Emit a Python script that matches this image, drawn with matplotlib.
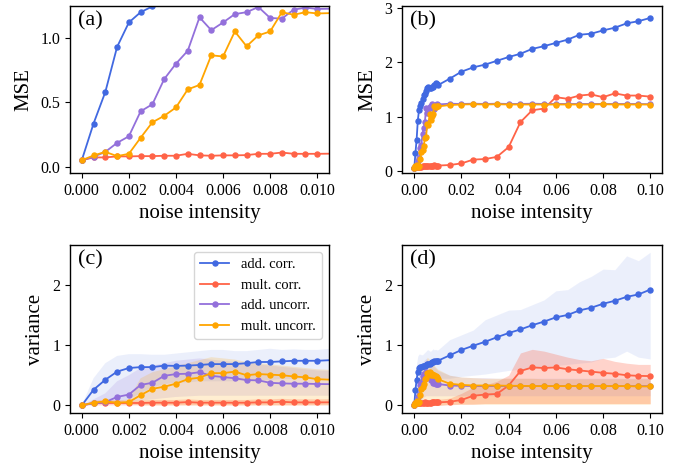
import numpy as np
import matplotlib
matplotlib.use("Agg")
import matplotlib.pyplot as plt

plt.rcParams['font.family'] = ['Liberation Serif', 'DejaVu Serif']
plt.rcParams['mathtext.fontset'] = 'stix'

# noise intensity grid (fine near zero, then coarse)
x_fine = [0.0, 0.0005, 0.001, 0.0015, 0.002, 0.0025, 0.003, 0.0035, 0.004, 0.0045, 0.005,
          0.0055, 0.006, 0.0065, 0.007, 0.0075, 0.008, 0.0085, 0.009, 0.0095, 0.010]
x_coarse = [0.015, 0.02, 0.025, 0.03, 0.035, 0.04, 0.045, 0.05, 0.055, 0.06, 0.065,
            0.07, 0.075, 0.08, 0.085, 0.09, 0.095, 0.1]
noise = np.array(x_fine + x_coarse)

labels = ["add. corr.", "mult. corr.", "add. uncorr.", "mult. uncorr."]
colors = ["#4169E1", "#FF6347", "#9370DB", "#FFA500"]
band_alpha = [0.10, 0.28, 0.16, 0.18]

# MSE
mse_add_corr = [0.05, 0.335, 0.58, 0.93, 1.12, 1.20, 1.245, 1.33, 1.40, 1.42, 1.48, 1.52, 1.55, 1.53, 1.52, 1.55, 1.54, 1.58, 1.62, 1.60, 1.58,
                1.70, 1.83, 1.91, 1.96, 2.03, 2.10, 2.16, 2.25, 2.30, 2.36, 2.42, 2.51, 2.53, 2.59, 2.64, 2.72, 2.76, 2.82]
mse_mult_corr = [0.05, 0.072, 0.072, 0.08, 0.08, 0.082, 0.082, 0.085, 0.085, 0.10, 0.088, 0.085, 0.088, 0.088, 0.09, 0.10, 0.10, 0.11, 0.10, 0.10, 0.10,
                 0.11, 0.14, 0.21, 0.22, 0.26, 0.44, 0.90, 1.12, 1.15, 1.36, 1.33, 1.39, 1.41, 1.36, 1.43, 1.39, 1.39, 1.37]
mse_add_uncorr = [0.05, 0.077, 0.115, 0.185, 0.236, 0.43, 0.485, 0.68, 0.80, 0.90, 1.16, 1.06, 1.12, 1.185, 1.20, 1.24, 1.155, 1.15, 1.22, 1.235, 1.225,
                  1.24, 1.235, 1.24, 1.235, 1.24, 1.235, 1.235, 1.24, 1.235, 1.235, 1.235, 1.235, 1.235, 1.235, 1.235, 1.235, 1.235, 1.23]
mse_mult_uncorr = [0.05, 0.087, 0.115, 0.082, 0.10, 0.225, 0.345, 0.395, 0.46, 0.60, 0.635, 0.865, 0.856, 1.05, 0.935, 1.02, 1.05, 1.20, 1.18, 1.20, 1.19,
                   1.215, 1.225, 1.23, 1.225, 1.23, 1.225, 1.225, 1.225, 1.225, 1.225, 1.225, 1.225, 1.225, 1.23, 1.225, 1.225, 1.225, 1.225]

# variance (mean)
var_add_corr = [0.0, 0.26, 0.425, 0.56, 0.62, 0.635, 0.635, 0.66, 0.655, 0.66, 0.67, 0.685, 0.685, 0.685, 0.70, 0.72, 0.72, 0.73, 0.74, 0.74, 0.74,
                0.83, 0.92, 0.99, 1.055, 1.13, 1.20, 1.26, 1.33, 1.39, 1.46, 1.50, 1.575, 1.62, 1.685, 1.735, 1.80, 1.84, 1.92]
var_mult_corr = [0.0, 0.04, 0.04, 0.04, 0.04, 0.04, 0.045, 0.045, 0.045, 0.055, 0.045, 0.045, 0.045, 0.045, 0.045, 0.05, 0.05, 0.06, 0.05, 0.05, 0.05,
                 0.06, 0.09, 0.16, 0.18, 0.19, 0.33, 0.57, 0.63, 0.62, 0.63, 0.60, 0.58, 0.56, 0.54, 0.525, 0.50, 0.49, 0.486]
var_add_uncorr = [0.0, 0.035, 0.055, 0.14, 0.18, 0.34, 0.375, 0.49, 0.52, 0.525, 0.55, 0.49, 0.47, 0.45, 0.42, 0.415, 0.375, 0.365, 0.36, 0.36, 0.355,
                  0.33, 0.325, 0.32, 0.32, 0.32, 0.32, 0.32, 0.32, 0.32, 0.32, 0.32, 0.32, 0.32, 0.32, 0.32, 0.32, 0.32, 0.32]
var_mult_uncorr = [0.0, 0.045, 0.066, 0.045, 0.055, 0.17, 0.275, 0.31, 0.36, 0.435, 0.46, 0.535, 0.535, 0.56, 0.50, 0.52, 0.51, 0.50, 0.48, 0.465, 0.435,
                   0.36, 0.34, 0.33, 0.33, 0.33, 0.325, 0.325, 0.32, 0.32, 0.32, 0.32, 0.32, 0.32, 0.32, 0.32, 0.32, 0.315, 0.315]

# variance spread (lower / upper)
lo_add_corr = [0.0, 0.02, 0.03, 0.05, 0.1, 0.2, 0.3, 0.35, 0.38, 0.38, 0.4, 0.4, 0.4, 0.4, 0.42, 0.42, 0.42, 0.44, 0.44, 0.45, 0.45,
               0.45, 0.48, 0.5, 0.52, 0.55, 0.58, 0.6, 0.62, 0.64, 0.66, 0.68, 0.7, 0.72, 0.78, 0.8, 0.9, 0.8, 0.77]
hi_add_corr = [0.0, 0.45, 0.7, 0.82, 0.85, 0.85, 0.84, 0.84, 0.86, 0.88, 0.9, 0.92, 0.92, 0.9, 0.9, 0.92, 0.94, 0.92, 0.93, 0.92, 0.92,
               1.09, 1.17, 1.25, 1.42, 1.5, 1.58, 1.59, 1.67, 1.75, 1.9, 1.92, 2.05, 2.14, 2.26, 2.25, 2.48, 2.4, 2.54]
lo_mult_corr = [0.0, 0.0, 0.0, 0.0, 0.0, 0.0, 0.0, 0.0, 0.0, 0.0, 0.0, 0.0, 0.0, 0.0, 0.0, 0.0, 0.0, 0.0, 0.0, 0.0, 0.0,
                0.01, 0.02, 0.02, 0.03, 0.03, 0.03, 0.03, 0.03, 0.03, 0.03, 0.03, 0.03, 0.03, 0.03, 0.03, 0.03, 0.03, 0.03]
hi_mult_corr = [0.0, 0.08, 0.08, 0.08, 0.08, 0.08, 0.09, 0.09, 0.09, 0.1, 0.09, 0.09, 0.09, 0.09, 0.09, 0.1, 0.1, 0.11, 0.1, 0.1, 0.1,
                0.12, 0.2, 0.3, 0.34, 0.4, 0.5, 0.87, 0.93, 0.9, 0.85, 0.8, 0.76, 0.74, 0.78, 0.73, 0.7, 0.68, 0.68]
lo_add_uncorr = [0.0, 0.02, 0.03, 0.05, 0.06, 0.08, 0.1, 0.12, 0.14, 0.15, 0.16, 0.16, 0.16, 0.16, 0.16, 0.16, 0.16, 0.16, 0.16, 0.16, 0.16,
                 0.16, 0.16, 0.16, 0.16, 0.16, 0.16, 0.16, 0.16, 0.16, 0.16, 0.16, 0.16, 0.16, 0.16, 0.16, 0.16, 0.16, 0.16]
hi_add_uncorr = [0.0, 0.1, 0.2, 0.4, 0.5, 0.62, 0.66, 0.7, 0.74, 0.76, 0.78, 0.76, 0.74, 0.72, 0.7, 0.68, 0.66, 0.64, 0.62, 0.6, 0.58,
                 0.5, 0.47, 0.46, 0.46, 0.45, 0.45, 0.45, 0.45, 0.45, 0.45, 0.45, 0.45, 0.45, 0.45, 0.45, 0.45, 0.45, 0.45]
lo_mult_uncorr = [0.0, 0.03, 0.03, 0.02, 0.02, 0.0, 0.0, 0.0, 0.0, 0.0, 0.0, 0.0, 0.0, 0.0, 0.0, 0.0, 0.0, 0.0, 0.0, 0.0, 0.0,
                  0.02, 0.02, 0.02, 0.02, 0.02, 0.02, 0.02, 0.02, 0.02, 0.02, 0.02, 0.02, 0.02, 0.02, 0.02, 0.02, 0.02, 0.02]
hi_mult_uncorr = [0.0, 0.06, 0.1, 0.08, 0.1, 0.45, 0.55, 0.6, 0.65, 0.7, 0.75, 0.8, 0.78, 0.76, 0.72, 0.7, 0.68, 0.66, 0.64, 0.62, 0.6,
                  0.5, 0.47, 0.46, 0.45, 0.45, 0.45, 0.45, 0.45, 0.44, 0.44, 0.44, 0.44, 0.44, 0.44, 0.44, 0.44, 0.44, 0.44]

mse = [mse_add_corr, mse_mult_corr, mse_add_uncorr, mse_mult_uncorr]
var = [var_add_corr, var_mult_corr, var_add_uncorr, var_mult_uncorr]
lows = [lo_add_corr, lo_mult_corr, lo_add_uncorr, lo_mult_uncorr]
highs = [hi_add_corr, hi_mult_corr, hi_add_uncorr, hi_mult_uncorr]

fig = plt.figure(figsize=(6.87, 4.68), dpi=100)
W, H = 687, 468
def ax_at(l, t, r, b):
    return fig.add_axes([l / W, 1 - b / H, (r - l) / W, (b - t) / H])

axa = ax_at(70, 6, 329, 173)
axb = ax_at(402, 6, 662, 173)
axc = ax_at(70, 245, 329, 413)
axd = ax_at(402, 245, 662, 413)

line_kw = dict(marker='o', markersize=3.6, linewidth=1.3)

for ax in (axa, axb):
    for y, c, lab in zip(mse, colors, labels):
        ax.plot(noise, y, color=c, label=lab, **line_kw)
    ax.set_ylabel("MSE", fontsize=15, labelpad=5)

for ax in (axc, axd):
    for lo, hi, c, a in zip(lows, highs, colors, band_alpha):
        ax.fill_between(noise, lo, hi, color=c, alpha=a, linewidth=0)
    for y, c, lab in zip(var, colors, labels):
        ax.plot(noise, y, color=c, label=lab, **line_kw)
    ax.set_ylabel("variance", fontsize=15, labelpad=5)
    ax.set_ylim(-0.126, 2.66)
    ax.set_yticks([0, 1, 2])

for ax in (axa, axc):
    ax.set_xlim(-0.0005, 0.0105)
    ax.set_xticks([0.0, 0.002, 0.004, 0.006, 0.008, 0.010])
    ax.set_xticklabels(["0.000", "0.002", "0.004", "0.006", "0.008", "0.010"])
for ax in (axb, axd):
    ax.set_xlim(-0.0052, 0.105)
    ax.set_xticks([0.0, 0.02, 0.04, 0.06, 0.08, 0.10])
    ax.set_xticklabels(["0.00", "0.02", "0.04", "0.06", "0.08", "0.10"])

axa.set_ylim(-0.049, 1.248)
axa.set_yticks([0.0, 0.5, 1.0])
axa.set_yticklabels(["0.0", "0.5", "1.0"])
axb.set_ylim(-0.037, 3.04)
axb.set_yticks([0, 1, 2, 3])

for ax, tag in zip((axa, axb, axc, axd), ("(a)", "(b)", "(c)", "(d)")):
    ax.set_xlabel("noise intensity", fontsize=15, labelpad=4)
    ax.tick_params(labelsize=11.5, length=3.5, width=0.8)
    ax.text(0.03, 0.97, tag, transform=ax.transAxes, ha='left', va='top', fontsize=16)
    for s in ax.spines.values():
        s.set_linewidth(1.0)

axc.legend(loc='upper right', fontsize=10.5, framealpha=0.8)

fig.savefig("out.png", dpi=100)
